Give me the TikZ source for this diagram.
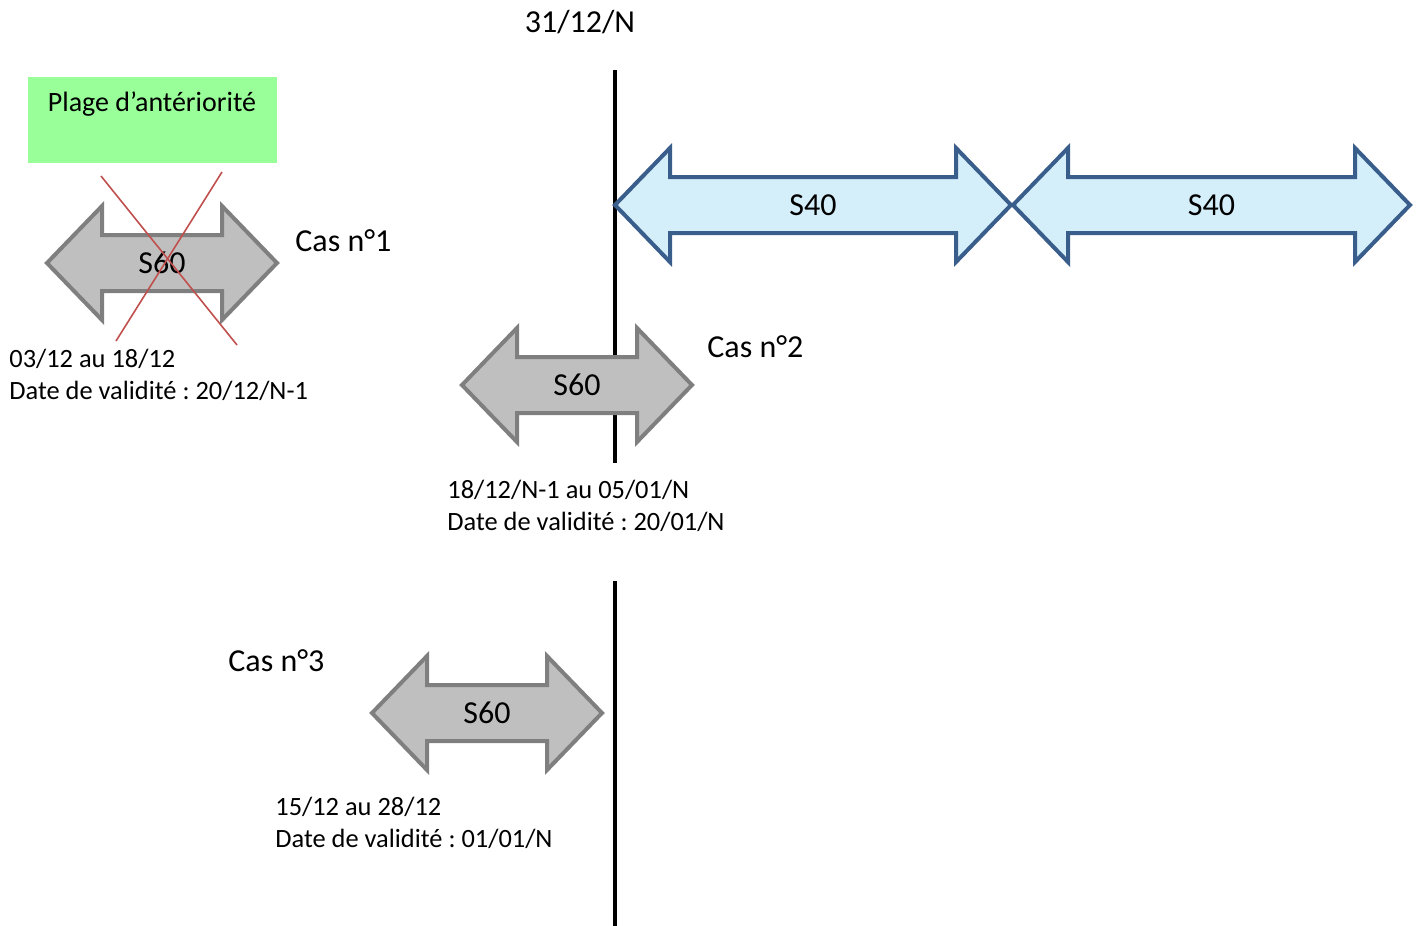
\documentclass[tikz,border=0pt]{standalone}
\usepackage{fontspec}
\setmainfont{Carlito}
\usepackage{tikz}
\usetikzlibrary{positioning,calc}
\definecolor{fondgris}{HTML}{BFBFBF}
\definecolor{bordgris}{HTML}{7F7F7F}
\definecolor{fondbleu}{HTML}{D5EFFA}
\definecolor{bordbleu}{HTML}{3A5E8C}
\definecolor{vertpale}{HTML}{99FF99}
\definecolor{rougebarre}{HTML}{C0504D}
\frenchspacing

\begin{document}
\begin{tikzpicture}[x=0.5pt,y=-0.5pt,
  grand/.style={font=\fontsize{16}{19}\selectfont},
  petit/.style={font=\fontsize{13.2}{16}\selectfont,align=left,inner sep=0pt},
  grise/.style={draw=bordgris,fill=fondgris,line width=2pt},
  bleue/.style={draw=bordbleu,fill=fondbleu,line width=2pt}]
\useasboundingbox (0,0) rectangle (1420,926);
% axes du 31/12
\coordinate (h1) at (615,70);
\coordinate (b1) at (615,463);
\coordinate (h2) at (615,581);
\coordinate (b2) at (615,926);
\draw[line width=2pt] (h1) -- (b1);
\draw[line width=2pt] (h2) -- (b2);
\node[grand] (date) at (580,22) {31/12/N};
% plage
\fill[vertpale] (28,77) rectangle (277,163);
\node[font=\fontsize{14}{17}\selectfont] (plage) at (152,104) {Plage d’antériorité};
% fleches
\foreach \g/\d/\c/\n/\s/\t in {47/277/263/casun/grise/S60, 462/692/385/casdeux/grise/S60, 372/602/713/castrois/grise/S60, 615/1011/205/sqa/bleue/S40, 1013/1410/205/sqb/bleue/S40}{
  \draw[\s] (\g,\c) -- ({\g+55},{\c-57}) -- ({\g+55},{\c-28}) -- ({\d-55},{\c-28}) -- ({\d-55},{\c-57}) -- (\d,\c)
    -- ({\d-55},{\c+57}) -- ({\d-55},{\c+28}) -- ({\g+55},{\c+28}) -- ({\g+55},{\c+57}) -- cycle;
  \node[grand] (\n) at ({(\g+\d)/2},\c) {\t};
}
% barre du cas 1
\coordinate (x1) at (101,176);
\coordinate (x2) at (237,345);
\coordinate (x3) at (222,172);
\coordinate (x4) at (116,341);
\draw[rougebarre,line width=0.8pt] (x1) -- (x2);
\draw[rougebarre,line width=0.8pt] (x3) -- (x4);
% textes
\node[grand,anchor=west,inner sep=0pt] (tcasun) at (295,241) {Cas n°1};
\node[grand,anchor=west,inner sep=0pt] (tcasdeux) at (707,347) {Cas n°2};
\node[grand,anchor=west,inner sep=0pt] (tcastrois) at (228,661) {Cas n°3};
\node[petit,anchor=west] (dun) at (9,375) {03/12 au 18/12\\Date de validité : 20/12/N-1};
\node[petit,anchor=west] (ddeux) at (447,506) {18/12/N-1 au 05/01/N\\Date de validité : 20/01/N};
\node[petit,anchor=west] (dtrois) at (275,823) {15/12 au 28/12\\Date de validité : 01/01/N};
\end{tikzpicture}
\end{document}
